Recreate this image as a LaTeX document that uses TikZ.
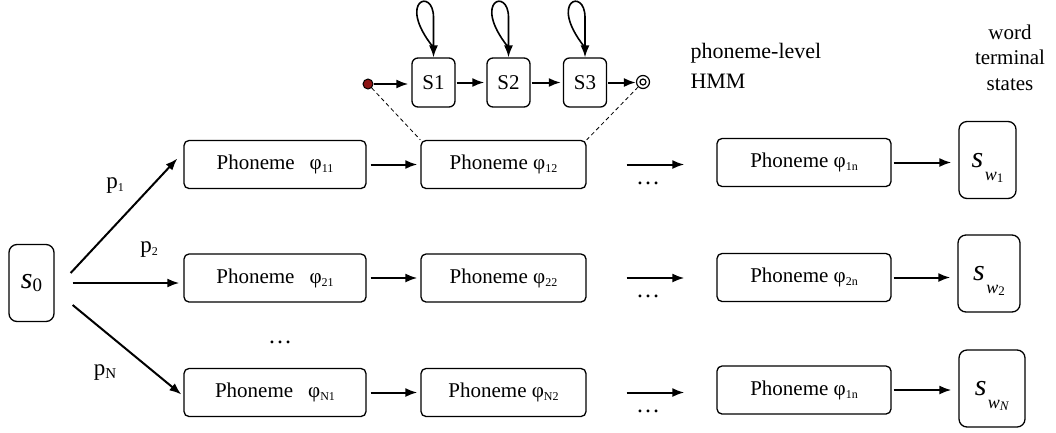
\documentclass[tikz,border=0pt]{standalone}
\usepackage{fontspec}
\setmainfont{Liberation Serif}
\usetikzlibrary{arrows.meta}

\definecolor{startred}{RGB}{140,20,20}

\newcommand{\sub}[1]{\raisebox{-3pt}{\fontsize{12}{12}\selectfont #1}}
\newcommand{\swsym}[1]{\raisebox{0pt}[20pt][6pt]{{\fontsize{30}{30}\selectfont\itshape s}\hspace{1.5pt}\raisebox{-13pt}{{\fontsize{18}{18}\selectfont\itshape w}\raisebox{-2pt}{\fontsize{13}{13}\selectfont #1}}}}

\begin{document}
\begin{tikzpicture}[x=1pt,y=-1pt,
	font=\fontsize{21}{25}\selectfont,
	phonbox/.style={draw, rounded corners=5pt, line width=1.3pt, minimum height=48pt, inner sep=0pt},
	hmmbox/.style={draw, rounded corners=6pt, line width=1.3pt, minimum width=43pt, minimum height=49pt, inner sep=0pt},
	termbox/.style={draw, rounded corners=8pt, line width=1.3pt, minimum height=77pt, inner sep=0pt},
	arr/.style={-{Latex[length=12pt,width=9pt]}, line width=2pt},
	loose/.style={font=\fontsize{24}{24}\selectfont}]
	\useasboundingbox (0,0) rectangle (1056,432);

	\node[termbox, minimum width=45pt] (s0) at (31.5,283) {{\fontsize{30}{30}\selectfont\itshape s}\raisebox{-3pt}{\fontsize{19}{19}\selectfont 0}};

	\node[phonbox, minimum width=182pt] (p11) at (275,164.5) {Phoneme\hspace{15pt}φ\sub{11}};
	\node[phonbox, minimum width=182pt] (p21) at (275,278) {Phoneme\hspace{15pt}φ\sub{21}};
	\node[phonbox, minimum width=182pt] (pN1) at (275,392.5) {Phoneme\hspace{15pt}φ\sub{N1}};

	\node[phonbox, minimum width=165pt] (p12) at (503.5,164.5) {Phoneme φ\sub{12}};
	\node[phonbox, minimum width=165pt] (p22) at (503.5,278) {Phoneme φ\sub{22}};
	\node[phonbox, minimum width=165pt] (pN2) at (503.5,392.5) {Phoneme φ\sub{N2}};

	\node[phonbox, minimum width=174pt] (p1n) at (804,162.5) {Phoneme φ\sub{1n}};
	\node[phonbox, minimum width=174pt] (p2n) at (804,277.5) {Phoneme φ\sub{2n}};
	\node[phonbox, minimum width=174pt] (pNn) at (804,390) {Phoneme φ\sub{1n}};

	\node[termbox, minimum width=57pt] (sw1) at (987.5,160) {\swsym{1}};
	\node[termbox, minimum width=62pt] (sw2) at (989,273.5) {\swsym{2}};
	\node[termbox, minimum width=66pt] (swN) at (992,388.5) {\swsym{\textit{N}}};

	\draw[arr] ([xshift=16pt,yshift=10pt]s0.east) -- ([xshift=-6pt,yshift=6pt]p11.west);
	\draw[arr] ([xshift=18pt]s0.east) -- ([xshift=-4pt]s0.east -| p21.west);
	\draw[arr] ([xshift=18pt,yshift=-22pt]s0.east) -- ([xshift=-2pt,yshift=-2pt]pN1.west);

	\node (lp1) at (115,186) {\fontsize{23}{23}\selectfont p\sub{1}};
	\node (lp2) at (149,250) {\fontsize{23}{23}\selectfont p\sub{2}};
	\node (lpN) at (105,373) {\fontsize{23}{23}\selectfont p\raisebox{-3pt}{\fontsize{15}{15}\selectfont N}};
	\node[loose] (vdots) at (280,342) {…};

	\foreach \a/\b/\c/\d in {p11/p12/p1n/sw1, p21/p22/p2n/sw2, pN1/pN2/pNn/swN} {
		\draw[arr, shorten <=4pt, shorten >=3pt] (\a.east) -- (\b.west);
		\draw[arr, shorten <=40pt, shorten >=32pt] (\b.east) -- (\b.east -| \c.west);
		\draw[arr, shorten <=2pt, shorten >=7pt] (\c.east) -- (\c.east -| \d.west);
	}
	\node[loose] (gap1) at (648,183) {…};
	\node[loose] (gap2) at (648,296) {…};
	\node[loose] (gap3) at (648,411) {…};

	\node[hmmbox] (S1) at (433.5,82.5) {S1};
	\node[hmmbox] (S2) at (508.5,82.5) {S2};
	\node[hmmbox] (S3) at (585,82.5) {S3};
	\node[circle, draw, line width=1pt, fill=startred, minimum size=10pt, inner sep=0pt] (hstart) at (368,84) {};
	\node[circle, draw, line width=1.2pt, minimum size=13pt, inner sep=0pt] (hend) at (643,82) {};
	\node[circle, draw, line width=1.2pt, minimum size=6pt, inner sep=0pt] (hendin) at (643,82) {};

	\draw[arr, shorten >=3pt] (hstart) -- (hstart -| S1.west);
	\draw[arr, shorten <=1pt, shorten >=2pt] (S1) -- (S2);
	\draw[arr, shorten <=1pt, shorten >=2pt] (S2) -- (S3);
	\draw[arr, shorten <=1pt] (S3.east) -- (S3.east -| hend.west);
	\foreach \s in {S1,S2,S3}
		\draw[arr, line width=1.6pt] ([shift={(-1,-11)}]\s.north) .. controls +(-36,-46) and +(0,-30) .. ([shift={(0,-40)}]\s.north) -- (\s.north);

	\draw[dashed, line width=0.8pt, dash pattern=on 4pt off 3pt] (hstart) -- (p12.north west);
	\draw[dashed, line width=0.8pt, dash pattern=on 4pt off 3pt] (hend) -- (p12.north east);

	\node[anchor=base west, align=left, font=\fontsize{22}{30}\selectfont] (hmmlab) at (687,88) {phoneme-level\\HMM};
	\node[anchor=base, align=center, font=\fontsize{21}{25.5}\selectfont] (termlab) at (1010,90) {word\\terminal\\states};
\end{tikzpicture}
\end{document}
